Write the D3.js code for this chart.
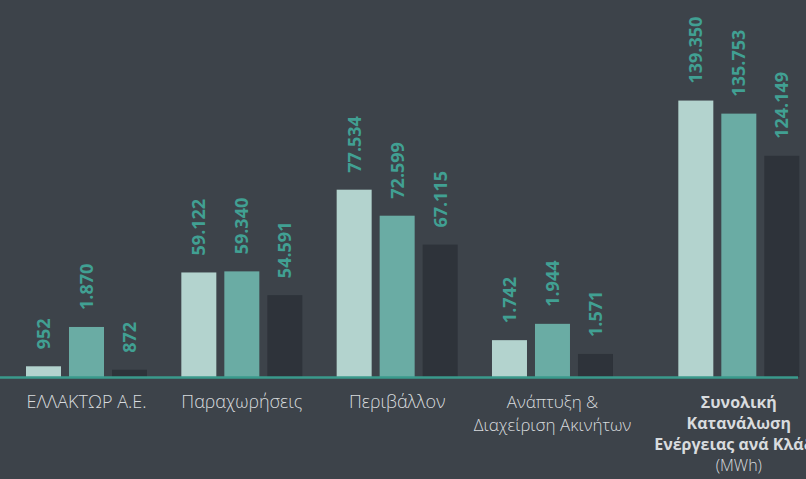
<!DOCTYPE html>
<html>
<head>
<meta charset="utf-8">
<script src="https://cdn.jsdelivr.net/npm/d3@7"></script>
<style>
  html, body { margin: 0; padding: 0; background: #3d434a; }
  svg { display: block; }
</style>
</head>
<body>
<svg id="chart" width="806" height="479"></svg>
<script>
// ---- data ----
const categories = [
  "ΕΛΛΑΚΤΩΡ Α.Ε.",
  "Παραχωρήσεις",
  "Περιβάλλον",
  "Ανάπτυξη & Διαχείριση Ακινήτων",
  "Συνολική Κατανάλωση Ενέργειας ανά Κλάδο (MWh)"
];
const categoryLines = [
  ["ΕΛΛΑΚΤΩΡ Α.Ε."],
  ["Παραχωρήσεις"],
  ["Περιβάλλον"],
  ["Ανάπτυξη &", "Διαχείριση Ακινήτων"],
  ["Συνολική", "Κατανάλωση", "Ενέργειας ανά Κλάδο", "(MWh)"]
];
const seriesNames = ["s1", "s2", "s3"];
const series1 = [952, 59122, 77534, 1742, 139350];
const series2 = [1870, 59340, 72599, 1944, 135753];
const series3 = [872, 54591, 67115, 1571, 124149];
// each group is drawn on its own value axis (broken scale)
const axisMin = [702, 38254, 42004, 1286, 63279];
const axisMax = [7216, 93946, 94926, 4739, 140054];

const seriesValues = [series1, series2, series3];
const colors = ["#b3d3ce", "#6aaca4", "#2e333a"];

// ---- layout ----
const svg = d3.select("#chart");
const baseY = 377, topY = 98;
const groupStep = 155.33, groupW = 121, lastGap = 31, left = 26;

const x0 = d3.scaleBand()
  .domain(categories)
  .range([left, left + groupStep * 4 + groupW])
  .paddingInner((groupStep - groupW) / groupStep)
  .paddingOuter(0);
const groupX = (c, i) => x0(c) + (i === categories.length - 1 ? lastGap : 0);

const x1 = d3.scaleBand()
  .domain(seriesNames)
  .range([0, groupW])
  .paddingInner(8 / 43)
  .paddingOuter(0);

const yScales = categories.map((c, i) =>
  d3.scaleLinear().domain([axisMin[i], axisMax[i]]).range([baseY, topY]));

const fmt = d3.formatLocale({ decimal: ",", thousands: ".", grouping: [3], currency: ["", "€"] }).format(",d");

const data = categories.map((c, i) => ({
  cat: c, idx: i,
  bars: seriesNames.map((s, j) => ({ s, v: seriesValues[j][i], j }))
}));

const groups = svg.selectAll("g.grp").data(data).join("g")
  .attr("class", "grp")
  .attr("transform", d => `translate(${groupX(d.cat, d.idx)},0)`);

groups.selectAll("rect").data(d => d.bars.map(b => ({ ...b, y: yScales[d.idx] })))
  .join("rect")
  .attr("x", b => x1(b.s))
  .attr("width", x1.bandwidth())
  .attr("y", b => b.y(b.v))
  .attr("height", b => baseY - b.y(b.v))
  .attr("fill", b => colors[b.j]);

groups.selectAll("text.val").data(d => d.bars.map(b => ({ ...b, y: yScales[d.idx] })))
  .join("text")
  .attr("class", "val")
  .attr("transform", b => `translate(${x1(b.s) + x1.bandwidth() / 2},${b.y(b.v) - 17}) rotate(-90)`)
  .attr("dy", "0.36em")
  .attr("text-anchor", "start")
  .attr("font-family", "'Open Sans', sans-serif")
  .attr("font-weight", 700)
  .attr("font-size", "18px")
  .attr("fill", "#41a093")
  .text(b => fmt(b.v));

// baseline
svg.append("line")
  .attr("x1", 0).attr("x2", 798)
  .attr("y1", baseY + 0.5).attr("y2", baseY + 0.5)
  .attr("stroke", "#3a9a8c")
  .attr("stroke-width", 2.5);

// category labels
groups.each(function (d) {
  const g = d3.select(this);
  const last = d.idx === categories.length - 1;
  const lines = categoryLines[d.idx];
  const size = last ? 16 : (lines.length > 1 ? 17 : 18);
  const gap = last ? 21 : 22.5;
  const t = g.append("text")
    .attr("text-anchor", "middle")
    .attr("font-family", "'Open Sans', sans-serif")
    .attr("font-size", size + "px")
    .attr("fill", "#d8dbde");
  lines.forEach((line, k) => {
    t.append("tspan")
      .attr("x", groupW / 2)
      .attr("y", 408 + k * gap)
      .attr("font-weight", last && k < 3 ? 700 : 300)
      .text(line);
  });
});
</script>
</body>
</html>
